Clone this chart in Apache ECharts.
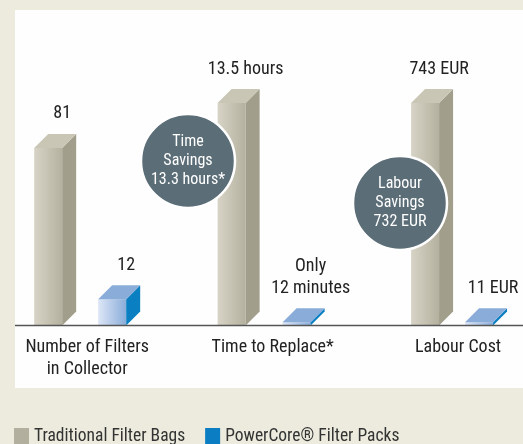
<!DOCTYPE html>
<html>
<head>
<meta charset="utf-8">
<script src="https://cdn.jsdelivr.net/npm/echarts@6/dist/echarts.min.js"></script>
<style>
html,body{margin:0;padding:0;background:#ecebdd;}
#chart{width:523px;height:444px;}
</style>
</head>
<body>
<div id="chart"></div>
<script>
// ---- data ----
const categories = ['Number of Filters\nin Collector', 'Time to Replace*', 'Labour Cost'];
const seriesNames = ['Traditional Filter Bags', 'PowerCore® Filter Packs'];
const traditionalValues = [81, 13.5, 743];      // filters, hours, EUR
const powercoreValues = [12, 0.2, 11];          // filters, hours (12 min), EUR
const traditionalLabels = ['81', '13.5 hours', '743 EUR'];
const powercoreLabels = ['12', 'Only\n12 minutes', '11 EUR'];
const axisMax = [112, 14.9, 820];
const savingsLabels = ['Time\nSavings\n13.3 hours*', 'Labour\nSavings\n732 EUR'];

// ---- style / layout ----
const FONT = '"Roboto Condensed", "DejaVu Sans Condensed", sans-serif';
const W = 28, D = 14;
const styles = [
  { offsets: [-39, -41, -33], front: ['#d7d4c7', '#b4b19f'], side: '#a19e8b', top: '#c9c6b5', legend: '#b3af9f' },
  { offsets: [25, 24, 21], front: ['#dde6f6', '#8badda'], side: '#0a7fc1', top: '#8aacd9', legend: '#0b7dc2' }
];

const chart = echarts.init(document.getElementById('chart'), null, { renderer: 'canvas' });

function makeRender(s, labels) {
  return function (params, api) {
    const cat = api.value(0), v = api.value(1);
    const base = api.coord([cat, 0]);
    const top = api.coord([cat, v]);
    const cx = base[0] + s.offsets[cat];
    const x0 = cx - W / 2, x1 = cx + W / 2, yb = base[1], yt = top[1];
    return {
      type: 'group',
      children: [
        { type: 'rect', shape: { x: x0, y: yt, width: W, height: yb - yt },
          style: { fill: new echarts.graphic.LinearGradient(0, 0, 1, 0, [
            { offset: 0, color: s.front[0] }, { offset: 1, color: s.front[1] }]) } },
        { type: 'polygon', shape: { points: [[x1, yt], [x1 + D, yt - D], [x1 + D, yb - D], [x1, yb]] },
          style: { fill: s.side } },
        { type: 'polygon', shape: { points: [[x0, yt], [x0 + D, yt - D], [x1 + D, yt - D], [x1, yt]] },
          style: { fill: s.top } },
        { type: 'text', style: { text: labels[cat], x: cx + D, y: yt - D - 9,
          textAlign: 'center', textVerticalAlign: 'bottom', align: 'center', verticalAlign: 'bottom',
          fontSize: 18, fontFamily: FONT, lineHeight: 22, fill: '#222' } }
      ]
    };
  };
}

const series = [];
const valueSets = [traditionalValues, powercoreValues];
const labelSets = [traditionalLabels, powercoreLabels];
for (let k = 0; k < 2; k++) {
  for (let i = 0; i < categories.length; i++) {
    series.push({
      type: 'custom',
      name: seriesNames[k],
      xAxisIndex: 0,
      yAxisIndex: i,
      itemStyle: { color: styles[k].legend },
      renderItem: makeRender(styles[k], labelSets[k]),
      data: [[i, valueSets[k][i]]],
      z: 3
    });
  }
}

const yAxes = axisMax.map(m => ({ type: 'value', min: 0, max: m, show: false, splitLine: { show: false } }));

function bubble(cx, cy, text) {
  return {
    type: 'group', z: 100,
    children: [
      { type: 'circle', z: 100, shape: { cx: cx, cy: cy, r: 47 },
        style: { fill: '#5b6d77', stroke: '#ffffff', lineWidth: 2.5 } },
      { type: 'text', z: 101, x: cx, y: cy,
        style: { text: text, fill: '#ffffff', fontSize: 16, fontFamily: FONT, lineHeight: 19,
          align: 'center', verticalAlign: 'middle', textAlign: 'center', textVerticalAlign: 'middle' } }
    ]
  };
}

chart.setOption({
  backgroundColor: '#ecebdd',
  animation: false,
  grid: { left: 0, right: 0, top: 80, bottom: 118.5, containLabel: false },
  xAxis: {
    type: 'value', min: -0.47, max: 2.35,
    axisLine: { show: false }, axisTick: { show: false }, splitLine: { show: false },
    axisLabel: { customValues: [0, 1, 2], formatter: v => categories[Math.round(v)],
      fontSize: 18, fontFamily: FONT, color: '#222', lineHeight: 22, margin: 11 }
  },
  yAxis: yAxes,
  legend: {
    data: seriesNames.map(n => ({ name: n, icon: 'rect' })),
    left: 9, top: 423, itemWidth: 15, itemHeight: 18, itemGap: 20,
    selectedMode: false,
    textStyle: { fontSize: 17.5, fontFamily: FONT, color: '#333' }
  },
  graphic: [
    { type: 'rect', z: -10, shape: { x: 15, y: 10, width: 520, height: 378 }, style: { fill: '#fefefe' } },
    { type: 'line', z: 50, shape: { x1: 15, y1: 325.5, x2: 523, y2: 325.5 }, style: { stroke: '#555', lineWidth: 1.5 } },
    bubble(188, 161, savingsLabels[0]),
    bubble(400, 203, savingsLabels[1])
  ],
  series: series
});
</script>
</body>
</html>
